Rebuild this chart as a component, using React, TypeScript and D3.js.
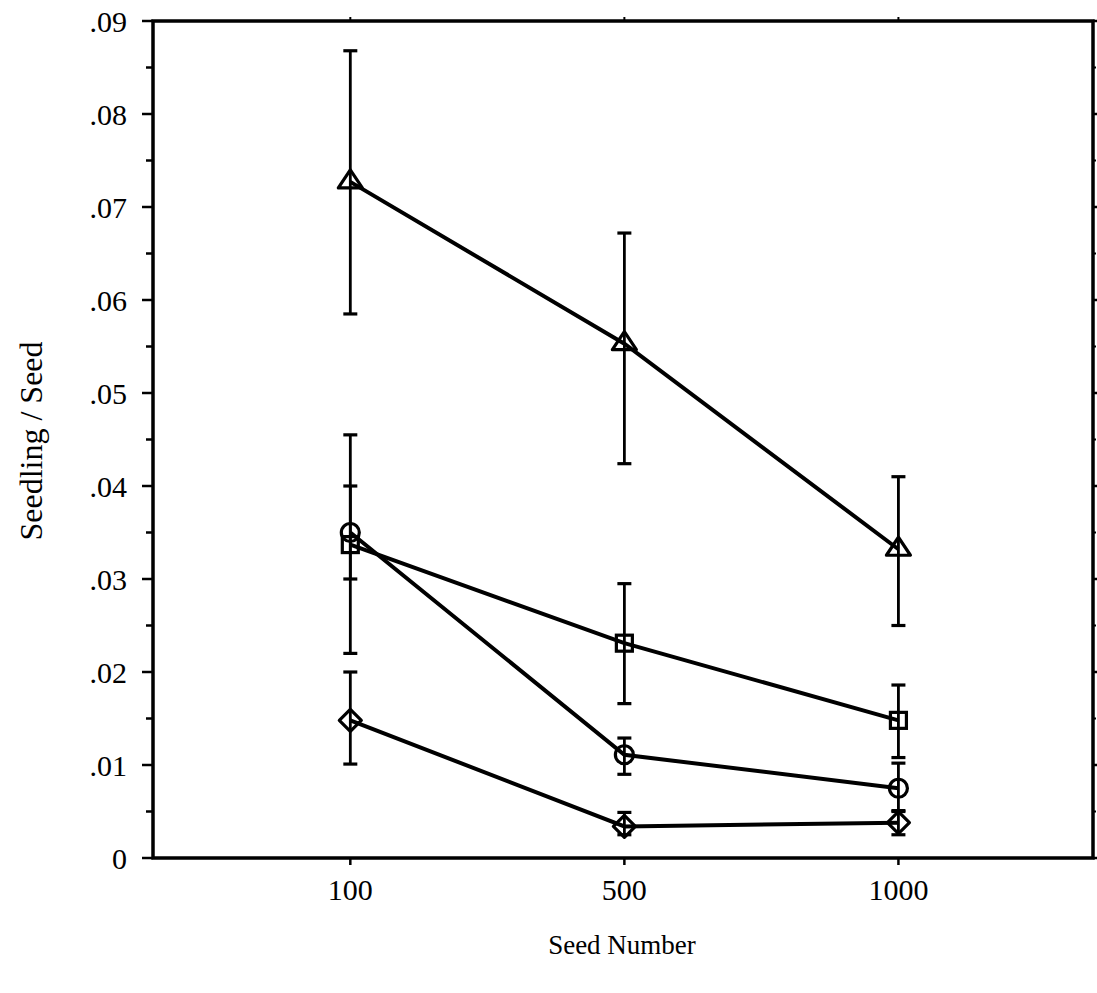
import React from "react";
import * as d3 from "d3";

const categories = ["100", "500", "1000"];

const triangleMean = [0.0727, 0.0553, 0.0332];
const triangleLow = [0.0585, 0.0424, 0.025];
const triangleHigh = [0.0868, 0.0672, 0.041];

const squareMean = [0.0337, 0.0231, 0.0148];
const squareLow = [0.022, 0.0166, 0.0108];
const squareHigh = [0.0455, 0.0295, 0.0186];

const circleMean = [0.035, 0.0111, 0.0075];
const circleLow = [0.03, 0.009, 0.005];
const circleHigh = [0.04, 0.0129, 0.0102];

const diamondMean = [0.0148, 0.0034, 0.0038];
const diamondLow = [0.0101, 0.0025, 0.0025];
const diamondHigh = [0.02, 0.0049, 0.0051];

const yTicks = [0, 0.01, 0.02, 0.03, 0.04, 0.05, 0.06, 0.07, 0.08, 0.09];
const yTickLabels = ["0", ".01", ".02", ".03", ".04", ".05", ".06", ".07", ".08", ".09"];
const yMinorTicks = [0.005, 0.015, 0.025, 0.035, 0.045, 0.055, 0.065, 0.075, 0.085];

const series = [
  { name: "triangle", mean: triangleMean, low: triangleLow, high: triangleHigh },
  { name: "square", mean: squareMean, low: squareLow, high: squareHigh },
  { name: "circle", mean: circleMean, low: circleLow, high: circleHigh },
  { name: "diamond", mean: diamondMean, low: diamondLow, high: diamondHigh },
];

const W = 1097;
const H = 993;
const L = 153;
const R = 1093;
const T = 21;
const B = 858;

const FONT = "'Liberation Serif', 'DejaVu Serif', serif";

export default function App() {
  const x = d3.scaleLinear().domain([-0.72, 2.71]).range([L, R]);
  const y = d3.scaleLinear().domain([0, 0.09]).range([B, T]);
  const line = d3
    .line<number>()
    .x((_, i) => x(i))
    .y((d) => y(d));

  const marker = (kind: string, cx: number, cy: number, key: string) => {
    const sw = 3.2;
    const common = { fill: "none", stroke: "#000", strokeWidth: sw, key };
    if (kind === "triangle") {
      const h = 18;
      const w = 24;
      const p = `M${cx},${cy - (2 * h) / 3}L${cx + w / 2},${cy + h / 3}L${cx - w / 2},${cy + h / 3}Z`;
      return <path d={p} {...common} strokeLinejoin="round" />;
    }
    if (kind === "square") {
      const s = 16;
      return <rect x={cx - s / 2} y={cy - s / 2} width={s} height={s} {...common} />;
    }
    if (kind === "circle") {
      return <circle cx={cx} cy={cy} r={9} {...common} />;
    }
    const r = 11;
    const p = `M${cx},${cy - r}L${cx + r},${cy}L${cx},${cy + r}L${cx - r},${cy}Z`;
    return <path d={p} {...common} strokeLinejoin="round" />;
  };

  return (
    <div style={{ position: "absolute", left: 0, top: 0 }}>
      <svg width={W} height={H} style={{ display: "block", background: "#fff" }}>
        <rect x={0} y={0} width={W} height={H} fill="#fff" />
        {/* frame */}
        <rect x={L} y={T} width={R - L} height={B - T} fill="none" stroke="#000" strokeWidth={3.5} />
        {/* left major ticks */}
        {yTicks.map((t, i) => (
          <g key={"yt" + i}>
            <line x1={L - 11} x2={L} y1={y(t)} y2={y(t)} stroke="#000" strokeWidth={2.5} />
            <line x1={R} x2={R + 4} y1={y(t)} y2={y(t)} stroke="#000" strokeWidth={2.5} />
            <text
              x={127}
              y={y(t)}
              dy="0.35em"
              textAnchor="end"
              fontFamily={FONT}
              fontSize={30}
              fill="#000"
            >
              {yTickLabels[i]}
            </text>
          </g>
        ))}
        {yMinorTicks.map((t, i) => (
          <g key={"ym" + i}>
            <line x1={L - 7} x2={L} y1={y(t)} y2={y(t)} stroke="#000" strokeWidth={2.5} />
            <line x1={R} x2={R + 3} y1={y(t)} y2={y(t)} stroke="#000" strokeWidth={2} />
          </g>
        ))}
        {/* x ticks */}
        {categories.map((c, i) => (
          <g key={"xt" + i}>
            <line x1={x(i)} x2={x(i)} y1={B} y2={B + 7} stroke="#000" strokeWidth={2.5} />
            <line x1={x(i)} x2={x(i)} y1={T} y2={T - 4} stroke="#000" strokeWidth={2} />
            <text
              x={x(i)}
              y={900}
              textAnchor="middle"
              fontFamily={FONT}
              fontSize={30}
              fill="#000"
            >
              {c}
            </text>
          </g>
        ))}
        {/* error bars */}
        {series.map((s) =>
          s.mean.map((_, i) => (
            <g key={s.name + "e" + i}>
              <line x1={x(i)} x2={x(i)} y1={y(s.low[i])} y2={y(s.high[i])} stroke="#000" strokeWidth={2.8} />
              <line x1={x(i) - 7} x2={x(i) + 7} y1={y(s.low[i])} y2={y(s.low[i])} stroke="#000" strokeWidth={3.2} />
              <line x1={x(i) - 7} x2={x(i) + 7} y1={y(s.high[i])} y2={y(s.high[i])} stroke="#000" strokeWidth={3.2} />
            </g>
          ))
        )}
        {/* lines */}
        {series.map((s) => (
          <path key={s.name + "l"} d={line(s.mean) || ""} fill="none" stroke="#000" strokeWidth={4} />
        ))}
        {/* markers */}
        {series.map((s) => s.mean.map((v, i) => marker(s.name, x(i), y(v), s.name + "m" + i)))}
        {/* axis titles */}
        <text
          x={622}
          y={954}
          textAnchor="middle"
          fontFamily={FONT}
          fontSize={27}
          fill="#000"
        >
          Seed Number
        </text>
        <text
          transform={`translate(42, 441) rotate(-90)`}
          textAnchor="middle"
          fontFamily={FONT}
          fontSize={32}
          fill="#000"
        >
          Seedling / Seed
        </text>
      </svg>
    </div>
  );
}
